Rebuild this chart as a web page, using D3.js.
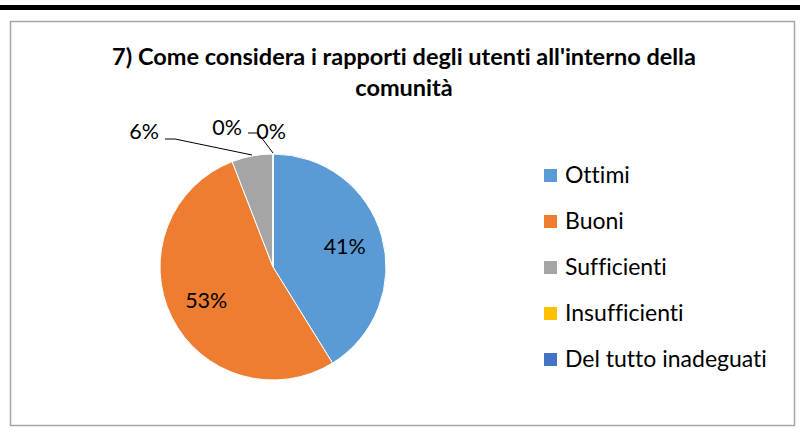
<!DOCTYPE html>
<html><head><meta charset="utf-8">
<script src="https://cdn.jsdelivr.net/npm/d3@7/dist/d3.min.js"></script>
<style>body{margin:0;background:#fff} text{font-variant-ligatures:none;font-feature-settings:"liga" 0,"clig" 0}</style>
</head><body>
<svg id="c" width="800" height="430"></svg>
<script>
const categories = ["Ottimi","Buoni","Sufficienti","Insufficienti","Del tutto inadeguati"];
const counts = [7, 9, 1, 0, 0];
const pctLabels = ["41%","53%","6%","0%","0%"];
const colors = ["#5B9BD5","#ED7D31","#A5A5A5","#FFC000","#4472C4"];
const titleLines = ["7) Come considera i rapporti degli utenti all'interno della","comunità"];

const svg = d3.select("#c");
const font = "Lato, 'Open Sans', sans-serif";

svg.append("rect").attr("x",0).attr("y",5).attr("width",800).attr("height",5).attr("fill","#000");
svg.append("rect").attr("x",10.5).attr("y",21.5).attr("width",784).attr("height",404)
  .attr("fill","#fff").attr("stroke","#A6A6A6").attr("stroke-width",1.5);

svg.selectAll("text.title").data(titleLines).join("text")
  .attr("x",404).attr("y",(d,i)=>65+i*31)
  .attr("text-anchor","middle").attr("font-family",font).attr("font-weight","bold")
  .attr("font-size",23.5).attr("fill","#000").text(d=>d);

const cx=273, cy=267, r=113;
const pie = d3.pie().sort(null).value(d=>d)(counts);
const arc = d3.arc().innerRadius(0).outerRadius(r);
const g = svg.append("g").attr("transform",`translate(${cx},${cy})`);
g.selectAll("path").data(pie).join("path")
  .attr("d",arc).attr("fill",(d,i)=>colors[i]).attr("stroke","#fff").attr("stroke-width",1);

const inner = d3.arc().innerRadius(r*0.66).outerRadius(r*0.66);
g.selectAll("text.in").data(pie.slice(0,2)).join("text")
  .attr("transform",d=>`translate(${inner.centroid(d)})`)
  .attr("text-anchor","middle").attr("dy","0.35em")
  .attr("font-family",font).attr("font-size",21.5).attr("fill","#000")
  .text((d,i)=>pctLabels[i]);

// outside labels for small slices (offsets relative to pie centre)
const outPos = [null,null,[-129,-136],[-46,-140],[-2,-136]];
const leader = [null,null,[[-108,-128],[-98,-128],[-21,-112]],null,[[-25,-134],[-15,-134],[0,-114]]];
[2,3,4].forEach(i=>{
  g.append("text").attr("x",outPos[i][0]).attr("y",outPos[i][1]).attr("dy","0.35em")
    .attr("text-anchor","middle").attr("font-family",font).attr("font-size",21.5).attr("fill","#000")
    .text(pctLabels[i]);
  if(leader[i]) g.append("path").attr("d",d3.line()(leader[i]))
    .attr("fill","none").attr("stroke","#000").attr("stroke-width",1);
});

const lg = svg.append("g");
categories.forEach((c,i)=>{
  const y = 175 + i*46;
  lg.append("rect").attr("x",544).attr("y",y-6).attr("width",13).attr("height",13).attr("fill",colors[i]);
  lg.append("text").attr("x",565).attr("y",y).attr("dy","0.35em")
    .attr("font-family",font).attr("font-size",23).attr("fill","#000").text(c);
});
</script>
</body></html>
